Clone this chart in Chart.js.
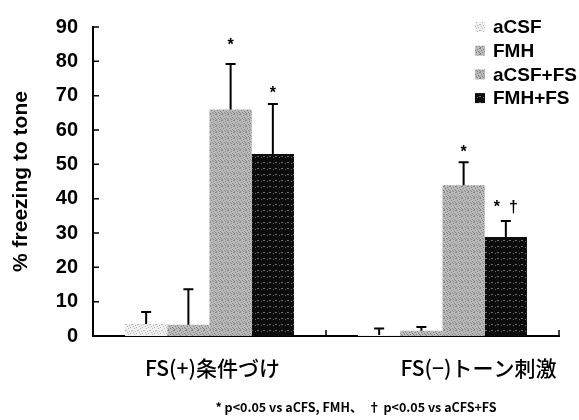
<!DOCTYPE html>
<html>
<head>
<meta charset="utf-8">
<script src="https://cdn.jsdelivr.net/npm/chart.js@4.4.1/dist/chart.umd.min.js"></script>
<style>
body{margin:0;background:#fff}
</style>
</head>
<body>
<canvas id="freeze" width="579" height="420"></canvas>
<script>
// data
var groups = ['FS(+)条件づけ', 'FS(−)トーン刺激']
var seriesNames = ['aCSF', 'FMH', 'aCSF+FS', 'FMH+FS']
var aCSF = [3.5, 0.3]
var FMH = [3.3, 1.5]
var aCSFFS = [66, 43.9]
var FMHFS = [53, 28.8]
// upper error (SEM)
var errACSF = [3.5, 1.9]
var errFMH = [10.3, 1.1]
var errACSFFS = [13.2, 6.7]
var errFMHFS = [14.6, 4.7]
// significance marks and the value they sit at
var markACSFFS = ['*', '*']
var markACSFFSAt = [85.8, 54.7]
var markFMHFS = ['*', '*  †']
var markFMHFSAt = [72, 38.8]
var yTicks = [0, 10, 20, 30, 40, 50, 60, 70, 80, 90]
var footnote = '* p<0.05 vs aCFS, FMH、  † p<0.05 vs aCFS+FS'

var canvas = document.getElementById('freeze')
var ctx = canvas.getContext('2d')

// scattered speckle so the fill looks like the scanned screen tone
var speckles = [[0,0],[3,1],[5,0],[1,2],[4,3],[2,4],[0,5],[5,4],[3,5],[1,3]]

function texture(base, speck, count){
	var c = document.createElement('canvas')
	c.width = 6; c.height = 6
	var g = c.getContext('2d')
	g.fillStyle = base
	g.fillRect(0, 0, 6, 6)
	g.fillStyle = speck
	speckles.slice(0, count).forEach(function(p){ g.fillRect(p[0], p[1], 1, 1) })
	return ctx.createPattern(c, 'repeat')
}

var fills = [
	texture('#f0f0f0', '#b4b4b4', 6),
	texture('#bcbcbc', '#808080', 8),
	texture('#bababa', '#858585', 9),
	texture('#0c0c0c', '#707070', 3)
]

var labelShift = [3, 36]

var extras = {
	id: 'extras',
	afterDatasetsDraw: function(chart){
		var c = chart.ctx
		var ys = chart.scales.y
		c.save()
		c.strokeStyle = '#000'
		c.lineWidth = 2
		chart.data.datasets.forEach(function(ds, i){
			var meta = chart.getDatasetMeta(i)
			meta.data.forEach(function(bar, j){
				var top = ys.getPixelForValue(ds.data[j] + ds.err[j])
				c.beginPath()
				c.moveTo(bar.x, bar.y)
				c.lineTo(bar.x, top)
				c.moveTo(bar.x - 5, top)
				c.lineTo(bar.x + 5, top)
				c.stroke()
				if(ds.marks && ds.marks[j]){
					c.fillStyle = '#000'
					c.font = 'bold 16px "Liberation Sans", Arial'
					c.textAlign = 'center'
					c.textBaseline = 'alphabetic'
					c.fillText(ds.marks[j], bar.x, ys.getPixelForValue(ds.marksAt[j]) + 9)
				}
			})
		})
		c.restore()
	},
	afterDraw: function(chart){
		var c = chart.ctx
		var xs = chart.scales.x
		var ys = chart.scales.y
		var area = chart.chartArea
		c.save()
		// inner tick marks
		c.strokeStyle = '#000'
		c.lineWidth = 1.5
		c.beginPath()
		yTicks.forEach(function(v){
			var py = ys.getPixelForValue(v)
			c.moveTo(area.left, py)
			c.lineTo(area.left + 6, py)
		})
		var mid = (xs.getPixelForTick(0) + xs.getPixelForTick(1)) / 2
		c.moveTo(mid, area.bottom)
		c.lineTo(mid, area.bottom - 6)
		c.moveTo(area.right, area.bottom)
		c.lineTo(area.right, area.bottom - 6)
		c.stroke()
		// category labels
		c.fillStyle = '#000'
		c.font = '500 21px "Noto Sans CJK JP", sans-serif'
		c.textAlign = 'center'
		c.textBaseline = 'middle'
		groups.forEach(function(g, i){
			c.fillText(g, xs.getPixelForTick(i) + labelShift[i], 368)
		})
		// legend
		c.font = 'bold 19px "Liberation Sans", Arial'
		c.textAlign = 'left'
		chart.data.datasets.forEach(function(ds, i){
			var cy = 28 + i * 23.7
			c.fillStyle = ds.backgroundColor
			c.fillRect(475, cy - 6, 10, 10)
			c.fillStyle = '#000'
			c.fillText(ds.label, 493, cy)
		})
		// footnote
		c.font = 'bold 12.5px "Noto Sans CJK JP", sans-serif'
		c.textAlign = 'center'
		c.fillText(footnote, 356, 407)
		c.restore()
	}
}

var values = [aCSF, FMH, aCSFFS, FMHFS]
var errs = [errACSF, errFMH, errACSFFS, errFMHFS]
var marks = [null, null, markACSFFS, markFMHFS]
var marksAt = [null, null, markACSFFSAt, markFMHFSAt]

var datasets = seriesNames.map(function(name, i){
	return {
		label: name,
		data: values[i],
		err: errs[i],
		marks: marks[i],
		marksAt: marksAt[i],
		backgroundColor: fills[i],
		borderWidth: 0
	}
})

new Chart(ctx, {
	type: 'bar',
	data: { labels: groups, datasets: datasets },
	options: {
		responsive: false,
		animation: false,
		layout: { padding: { top: 14, right: 20, left: 0, bottom: 0 } },
		datasets: { bar: { categoryPercentage: 0.725, barPercentage: 1 } },
		plugins: { legend: { display: false }, tooltip: { enabled: false } },
		scales: {
			x: {
				ticks: { display: false },
				grid: { display: false },
				border: { color: '#000', width: 2 },
				afterFit: function(s){ s.height = 84 }
			},
			y: {
				min: yTicks[0],
				max: yTicks[yTicks.length - 1],
				ticks: {
					stepSize: 10,
					color: '#000',
					padding: 15,
					font: { family: '"Liberation Sans", Arial', size: 20, weight: 'bold' }
				},
				grid: { display: false, drawTicks: false },
				border: { color: '#000', width: 2 },
				title: {
					display: true,
					text: '% freezing to tone',
					color: '#000',
					padding: { top: 9, bottom: 0 },
					font: { family: '"Liberation Sans", Arial', size: 21, weight: 'bold' }
				},
				afterFit: function(s){ s.width = 93 }
			}
		}
	},
	plugins: [extras]
})
</script>
</body>
</html>
